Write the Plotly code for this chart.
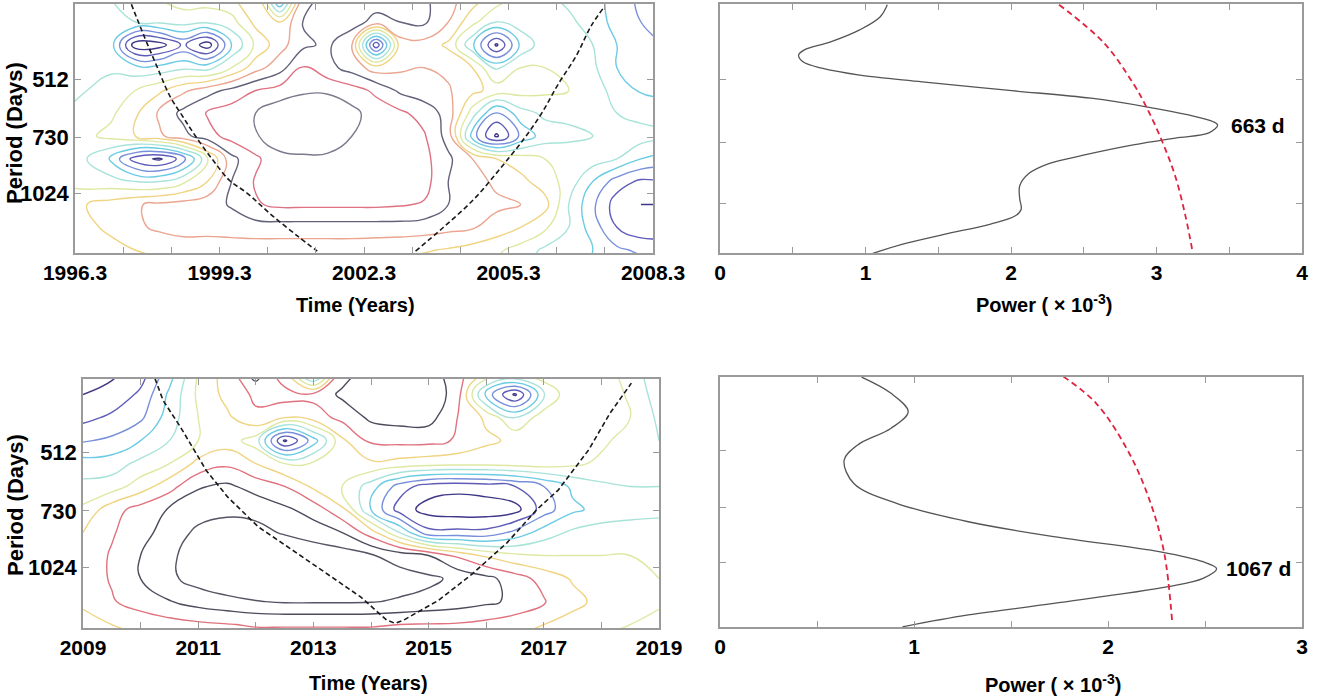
import math
import plotly.graph_objects as go

# ---------------- data ----------------
# grid periods (days) shared by both wavelet maps (log-spaced rows)
grid_period = [315, 362, 416, 478, 549, 630, 724, 832, 955, 1098, 1261, 1448, 1664]

# top wavelet map (1996-2008)
tl_time = [1996.05, 1996.55, 1997.05, 1997.55, 1998.05, 1998.55, 1999.05, 1999.55, 2000.05,
           2000.55, 2001.05, 2001.55, 2002.05, 2002.55, 2003.05, 2003.55, 2004.05, 2004.55,
           2005.05, 2005.55, 2006.05, 2006.55, 2007.05, 2007.55, 2008.05, 2008.55]
tl_power = [
    [4.5, 4.5, 5.0, 5.5, 6.0, 6.5, 6.5, 6.8, 8.0, 2.5, 8.5, 9.5, 9.6, 9.6, 9.5, 9.2, 8.3, 7.5, 6.5, 5.8, 5.2, 4.8, 4.5, 3.5, 2.8, 2.5],
    [4.5, 4.6, 4.9, 5.0, 5.2, 5.4, 5.2, 5.6, 7.3, 7.0, 9.1, 9.6, 9.5, 8.6, 9.0, 9.2, 8.0, 6.3, 5.0, 5.5, 5.6, 5.2, 4.6, 3.6, 3.0, 2.8],
    [4.6, 4.6, 4.4, 0.4, 0.5, 2.2, 0.4, 4.0, 6.2, 7.6, 8.8, 9.2, 8.0, 1.2, 7.5, 7.6, 6.8, 4.2, 0.8, 4.2, 5.6, 5.6, 5.0, 4.0, 3.4, 3.0],
    [4.7, 4.7, 4.8, 4.4, 4.4, 4.8, 4.6, 6.0, 7.6, 8.6, 10.1, 9.3, 8.6, 7.5, 7.8, 8.0, 7.8, 7.0, 4.8, 6.0, 6.0, 5.8, 5.2, 4.0, 3.4, 3.2],
    [4.8, 5.0, 5.5, 6.0, 6.8, 7.8, 8.6, 9.3, 10.0, 10.4, 10.8, 10.8, 10.4, 9.8, 8.8, 8.4, 8.1, 7.3, 6.6, 6.4, 6.2, 6.0, 5.5, 4.6, 3.9, 3.8],
    [5.0, 5.3, 5.8, 6.8, 8.2, 9.3, 10.1, 10.5, 11.0, 11.7, 12.0, 12.0, 11.3, 10.5, 10.2, 9.6, 8.6, 5.5, 2.8, 4.6, 5.2, 5.3, 5.4, 5.0, 4.6, 4.5],
    [5.5, 5.8, 6.3, 7.0, 7.8, 8.7, 9.6, 10.4, 10.9, 11.6, 11.8, 11.6, 11.0, 10.5, 10.4, 10.1, 8.6, 3.5, 0.8, 3.2, 4.5, 4.7, 5.0, 5.5, 5.5, 5.3],
    [5.3, 5.0, 3.8, 1.5, 0.8, 2.5, 5.8, 8.7, 9.8, 10.7, 10.8, 10.8, 10.7, 10.6, 10.5, 10.3, 9.2, 8.0, 7.0, 6.5, 6.0, 5.8, 5.5, 5.0, 4.0, 3.5],
    [5.8, 5.5, 5.4, 5.0, 5.0, 5.8, 7.0, 9.0, 10.1, 10.6, 10.7, 10.7, 10.6, 10.6, 10.5, 10.4, 9.0, 8.4, 7.8, 7.3, 6.5, 5.6, 4.0, 2.5, 1.8, 2.0],
    [6.6, 7.0, 7.4, 7.9, 8.2, 8.4, 8.6, 9.1, 9.9, 10.2, 10.2, 10.2, 10.2, 10.2, 10.1, 9.9, 9.0, 8.6, 8.2, 8.0, 7.4, 5.0, 3.2, 1.5, 1.0, 1.0],
    [6.5, 6.8, 7.2, 7.8, 8.2, 8.5, 8.4, 8.5, 8.6, 8.6, 8.6, 8.6, 8.6, 8.6, 8.6, 8.5, 8.3, 8.1, 7.6, 7.0, 6.2, 5.0, 3.5, 2.0, 1.3, 1.3],
    [6.2, 6.4, 6.7, 7.0, 7.2, 7.3, 7.4, 7.4, 7.4, 7.4, 7.4, 7.4, 7.4, 7.3, 7.2, 7.1, 6.9, 6.6, 6.2, 5.6, 4.8, 4.8, 4.0, 3.2, 2.8, 2.8],
    [5.8, 6.0, 6.2, 6.4, 6.5, 6.6, 6.6, 6.6, 6.6, 6.6, 6.6, 6.6, 6.6, 6.5, 6.4, 6.3, 6.1, 5.9, 5.6, 5.2, 4.6, 4.2, 3.8, 3.6, 3.8, 4.0],
]

# bottom wavelet map (2009-2019)
bl_time = [2009.0, 2009.5, 2010.0, 2010.5, 2011.0, 2011.5, 2012.0, 2012.5, 2013.0, 2013.5, 2014.0,
           2014.5, 2015.0, 2015.5, 2016.0, 2016.5, 2017.0, 2017.5, 2018.0, 2018.5, 2019.0]
bl_power = [
    [0.5, 0.8, 1.5, 3.5, 6.0, 7.5, 9.6, 7.0, 2.5, 8.5, 9.5, 9.8, 9.5, 8.3, 7.2, 7.0, 7.0, 7.0, 6.5, 5.5, 4.3],
    [1.0, 1.3, 2.2, 4.2, 6.2, 7.3, 8.2, 8.5, 8.3, 9.2, 9.8, 10.0, 9.8, 8.5, 3.6, 0.8, 4.8, 7.0, 6.8, 5.8, 4.5],
    [1.7, 2.2, 2.8, 4.5, 6.0, 6.8, 7.8, 7.0, 7.5, 8.3, 9.2, 9.4, 9.4, 8.0, 6.8, 5.0, 6.6, 7.0, 6.8, 6.0, 4.8],
    [2.9, 3.2, 4.0, 5.0, 6.0, 6.5, 5.5, 0.8, 3.5, 6.8, 8.2, 8.3, 8.3, 7.9, 7.2, 6.8, 7.0, 6.8, 6.2, 5.6, 5.0],
    [4.4, 4.5, 5.3, 6.0, 7.3, 7.8, 7.0, 6.0, 6.2, 6.5, 6.8, 6.6, 6.4, 6.3, 6.3, 6.4, 6.5, 6.2, 5.8, 5.4, 5.1],
    [5.3, 5.5, 6.5, 7.6, 8.9, 9.2, 8.6, 8.0, 6.8, 6.0, 4.5, 2.5, 1.5, 1.3, 1.5, 2.0, 3.0, 4.2, 4.8, 5.0, 5.0],
    [6.2, 7.6, 8.4, 9.1, 9.6, 9.8, 9.7, 9.2, 8.6, 7.2, 4.0, 1.5, 0.6, 0.4, 0.4, 0.6, 2.5, 3.8, 4.3, 4.5, 4.6],
    [7.0, 7.9, 8.6, 9.5, 10.2, 10.4, 10.3, 9.9, 9.5, 9.0, 7.5, 5.0, 2.3, 2.3, 2.3, 3.3, 4.5, 5.2, 5.5, 5.6, 5.7],
    [7.4, 8.1, 9.0, 9.8, 10.5, 10.9, 11.0, 10.9, 10.7, 10.5, 10.1, 9.6, 9.0, 7.8, 6.8, 6.2, 6.0, 6.0, 6.0, 6.0, 6.0],
    [7.4, 8.1, 9.0, 9.8, 10.4, 10.8, 11.0, 10.9, 10.8, 10.7, 10.6, 10.4, 10.2, 9.8, 9.3, 8.5, 7.6, 6.9, 6.3, 6.1, 6.0],
    [7.2, 7.9, 8.5, 8.95, 9.4, 9.7, 9.95, 10.1, 10.1, 10.1, 10.05, 9.9, 9.7, 9.5, 9.2, 8.8, 8.1, 7.3, 6.7, 6.3, 6.1],
    [6.6, 7.0, 7.3, 7.6, 7.8, 7.95, 8.1, 8.1, 8.1, 8.1, 8.1, 8.0, 7.95, 7.9, 7.7, 7.4, 7.0, 6.6, 6.2, 6.0, 5.8],
    [6.0, 6.3, 6.6, 6.8, 7.0, 7.1, 7.2, 7.2, 7.2, 7.2, 7.2, 7.2, 7.1, 7.0, 6.9, 6.6, 6.3, 6.0, 5.8, 5.6, 5.5],
]

# cone of influence (time, period days)
tl_coi_time = [1997.47, 1997.74, 1998.0, 1998.27, 1998.54, 1998.8, 1999.16, 1999.51, 1999.87, 2000.4, 2000.93, 2001.33]
tl_coi_period = [325, 396, 474, 568, 644, 724, 837, 949, 1024, 1176, 1333, 1458]
tl_coi2_time = [2003.37, 2003.95, 2004.57, 2005.1, 2005.63, 2005.99, 2006.34, 2006.7, 2007.01, 2007.28]
tl_coi2_period = [1458, 1261, 1067, 891, 734, 630, 526, 446, 372, 331]
bl_coi_time = [2010.25, 2010.39, 2010.69, 2011.14, 2011.51, 2012.04, 2012.63, 2013.23, 2013.82, 2014.27, 2014.42,
               2014.57, 2015.17, 2015.76, 2016.36, 2016.88, 2017.25, 2017.78, 2018.15, 2018.52]
bl_coi_period = [329, 375, 440, 572, 671, 803, 923, 1067, 1226, 1409, 1438,
                 1409, 1252, 1067, 885, 724, 644, 505, 405, 338]

# global wavelet spectra (period days, power x1e-3)
tr_period = [338, 362, 389, 416, 435, 448, 465, 482, 501, 520, 545, 570, 598, 626, 650, 663,
             692, 712, 740, 785, 822, 870, 930, 1000, 1060, 1100, 1152, 1220, 1290, 1357]
tr_power = [1.15, 1.10, 0.96, 0.76, 0.58, 0.54, 0.57, 0.70, 0.96, 1.39, 1.97, 2.55, 2.93, 3.22,
            3.39, 3.42, 3.36, 3.13, 2.84, 2.49, 2.26, 2.12, 2.06, 2.06, 2.07, 2.03, 1.86, 1.54, 1.25, 1.05]
tr_sig_period = [338, 419, 525, 598, 727, 884, 1105, 1357]
tr_sig_power = [2.33, 2.64, 2.84, 2.93, 3.04, 3.13, 3.20, 3.25]

br_period = [326, 360, 404, 448, 496, 545, 630, 712, 798, 875, 961, 1022, 1067, 1133, 1193, 1323, 1421, 1529]
br_power = [0.73, 0.88, 0.97, 0.88, 0.71, 0.64, 0.69, 0.91, 1.28, 1.72, 2.27, 2.49, 2.56, 2.49, 2.31, 1.72, 1.28, 0.94]
br_sig_period = [325, 384, 523, 712, 970, 1466]
br_sig_power = [1.77, 1.94, 2.11, 2.22, 2.29, 2.33]

period_ticks = [512, 730, 1024]
tl_xticks = [1996.3, 1997.3, 1998.3, 1999.3, 2000.3, 2001.3, 2002.3, 2003.3, 2004.3, 2005.3, 2006.3, 2007.3, 2008.3]
tl_xlabels = ["1996.3", "", "", "1999.3", "", "", "2002.3", "", "", "2005.3", "", "", "2008.3"]
bl_xticks = [2009, 2010, 2011, 2012, 2013, 2014, 2015, 2016, 2017, 2018, 2019]
bl_xlabels = ["2009", "", "2011", "", "2013", "", "2015", "", "2017", "", "2019"]
tr_xticks = [0, 0.5, 1, 1.5, 2, 2.5, 3, 3.5, 4]
tr_xlabels = ["0", "", "1", "", "2", "", "3", "", "4"]
br_xticks = [0, 0.5, 1, 1.5, 2, 2.5, 3]
br_xlabels = ["0", "", "1", "", "2", "", "3"]

# ---------------- styling ----------------
W, H = 1331, 700
def px_x(a, b):
    return [a / W, b / W]
def px_y(top, bot):
    return [1 - bot / H, 1 - top / H]

level_colors_top = ["#3f3788", "#5f5cb8", "#7890dc", "#6ccbe4", "#a8e3da", "#dde9a2",
                    "#f0d482", "#eba590", "#62627a", "#de7282", "#7a7a8e"]
level_colors_bot = ["#3f3788", "#5f5cb8", "#7890dc", "#6ccbe4", "#a8e3da", "#dde9a2",
                    "#f0d482", "#e0727e", "#4c4c5c", "#545464", "#7a7a8e"]

def cscale(cols):
    n = len(cols) - 1
    return [[i / n, c] for i, c in enumerate(cols)]

FAM = "Liberation Sans, Arial, sans-serif"
XTICKFONT = dict(family=FAM, size=21, color="black")
YTICKFONT = dict(family=FAM, size=22, color="black")
AXCOL = "#9a9a9a"

fig = go.Figure()

fig.add_trace(go.Contour(x=tl_time, y=grid_period, z=tl_power, xaxis="x", yaxis="y",
                         contours=dict(coloring="lines", start=1, end=11, size=1),
                         zmin=1, zmax=11, zauto=False, colorscale=cscale(level_colors_top),
                         line=dict(width=1.4, smoothing=1.3), showscale=False, hoverinfo="skip"))
fig.add_trace(go.Contour(x=bl_time, y=grid_period, z=bl_power, xaxis="x3", yaxis="y3",
                         contours=dict(coloring="lines", start=1, end=11, size=1),
                         zmin=1, zmax=11, zauto=False, colorscale=cscale(level_colors_bot),
                         line=dict(width=1.4, smoothing=1.3), showscale=False, hoverinfo="skip"))

dash_k = dict(color="#1a1a1a", width=1.6, dash="5px,3px")
fig.add_trace(go.Scatter(x=tl_coi_time, y=tl_coi_period, mode="lines", line=dict(shape="spline", **dash_k),
                         xaxis="x", yaxis="y", showlegend=False))
fig.add_trace(go.Scatter(x=tl_coi2_time, y=tl_coi2_period, mode="lines", line=dict(shape="spline", **dash_k),
                         xaxis="x", yaxis="y", showlegend=False))
fig.add_trace(go.Scatter(x=bl_coi_time, y=bl_coi_period, mode="lines", line=dict(shape="linear", **dash_k),
                         xaxis="x3", yaxis="y3", showlegend=False))

gline = dict(color="#555555", width=1.3, shape="spline")
rdash = dict(color="#e0233f", width=1.8, dash="6px,4px", shape="spline")
fig.add_trace(go.Scatter(x=tr_power, y=tr_period, mode="lines", line=gline, xaxis="x2", yaxis="y2", showlegend=False))
fig.add_trace(go.Scatter(x=tr_sig_power, y=tr_sig_period, mode="lines", line=rdash, xaxis="x2", yaxis="y2", showlegend=False))
fig.add_trace(go.Scatter(x=br_power, y=br_period, mode="lines", line=gline, xaxis="x4", yaxis="y4", showlegend=False))
fig.add_trace(go.Scatter(x=br_sig_power, y=br_sig_period, mode="lines", line=rdash, xaxis="x4", yaxis="y4", showlegend=False))

def bold(lst):
    return ["<b>%s</b>" % t if t else "" for t in lst]

def xax(dom, rng, tv, tt, anchor):
    return dict(domain=dom, range=rng, tickvals=tv, ticktext=bold(tt), ticks="inside", ticklen=6,
                tickcolor=AXCOL, tickwidth=1.2, showline=True, linecolor=AXCOL, linewidth=1.5,
                mirror="ticks", showgrid=False, zeroline=False, tickfont=XTICKFONT,
                automargin=False, anchor=anchor)

def yax(dom, top_log2, bot_log2, anchor, labels=True):
    return dict(domain=dom, type="log",
                range=[bot_log2 * math.log10(2), top_log2 * math.log10(2)],
                tickvals=period_ticks,
                ticktext=bold([str(v) for v in period_ticks]) if labels else ["", "", ""],
                ticks="inside", ticklen=6, tickcolor=AXCOL, tickwidth=1.2, showline=True,
                linecolor=AXCOL, linewidth=1.5, mirror="ticks", showgrid=False, zeroline=False,
                tickfont=YTICKFONT, automargin=False, anchor=anchor)

fig.update_layout(
    width=W, height=H, margin=dict(l=0, r=0, t=0, b=0, autoexpand=False),
    paper_bgcolor="white", plot_bgcolor="white", showlegend=False,
    xaxis=xax(px_x(75, 653), [1996.3, 2008.3], tl_xticks, tl_xlabels, "y"),
    yaxis=yax(px_y(4, 253), 8.342, 10.526, "x"),
    xaxis2=xax(px_x(720, 1302), [0, 4], tr_xticks, tr_xlabels, "y2"),
    yaxis2=yax(px_y(4, 253), 8.395, 10.403, "x2", labels=False),
    xaxis3=xax(px_x(83, 659), [2009, 2019], bl_xticks, bl_xlabels, "y3"),
    yaxis3=yax(px_y(379, 628), 8.365, 10.530, "x3"),
    xaxis4=xax(px_x(720, 1302), [0, 3], br_xticks, br_xlabels, "y4"),
    yaxis4=yax(px_y(377, 627), 8.348, 10.580, "x4", labels=False),
)

TITLEFONT = dict(family=FAM, size=20, color="black")
YTFONT = dict(family=FAM, size=22, color="black")
PEAKFONT = dict(family=FAM, size=21, color="black")
ann = []
def pa(text, x, y, font, angle=0, xanchor="center"):
    ann.append(dict(text=text, x=x / W, y=1 - y / H, xref="paper", yref="paper", showarrow=False,
                    font=font, textangle=angle, xanchor=xanchor, yanchor="middle"))
pa("<b>Time (Years)</b>", 355, 305, TITLEFONT)
pa("<b>Time (Years)</b>", 368, 683, TITLEFONT)
pa("<b>Power ( × 10<sup>-3</sup>)</b>", 1044, 303, TITLEFONT)
pa("<b>Power ( × 10<sup>-3</sup>)</b>", 1053, 683, TITLEFONT)
pa("<b>Period (Days)</b>", 15, 133, YTFONT, angle=-90)
pa("<b>Period (Days)</b>", 15, 505, YTFONT, angle=-90)
fig.update_layout(annotations=ann)
fig.add_annotation(text="<b>663 d</b>", x=3.5, y=math.log10(663), xref="x2", yref="y2", showarrow=False,
                   xanchor="left", font=PEAKFONT)
fig.add_annotation(text="<b>1067 d</b>", x=2.6, y=math.log10(1067), xref="x4", yref="y4", showarrow=False,
                   xanchor="left", font=PEAKFONT)

fig.write_html("out.html", config={"displayModeBar": False},
               post_script="document.body.style.margin='0px';document.body.style.overflow='hidden';")
